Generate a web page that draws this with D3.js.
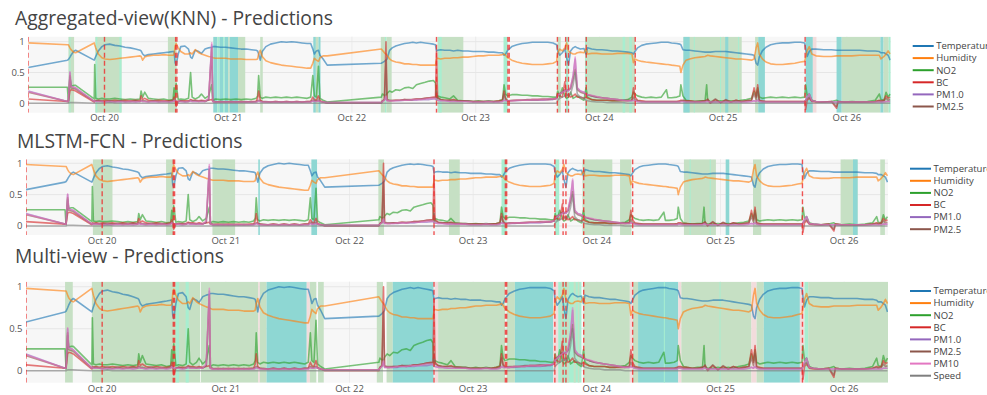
<!DOCTYPE html>
<html>
<head>
<meta charset="utf-8">
<script src="https://cdn.jsdelivr.net/npm/d3@7"></script>
<style>
  body { margin: 0; background: #fff; }
  svg { font-family: "Open Sans", "DejaVu Sans", sans-serif; }
</style>
</head>
<body>
<svg id="chart" width="987" height="395"></svg>
<script>
// Sample times, in hours after 19 Oct 00:00 (UTC)
const hours = [
  9.2,16.8,17.0,17.3,17.5,18.0,18.4,22.0,22.1,22.3,
  22.8,23.5,24.1,25.0,26.0,27.0,28.0,29.0,30.0,30.9,
  31.1,31.4,31.8,32.5,33.5,34.5,35.5,36.5,37.3,37.5,
  37.7,37.9,38.3,38.8,39.6,40.3,40.7,41.0,41.6,42.3,
  42.8,43.5,44.2,44.8,45.0,45.5,46.5,47.5,48.5,49.5,
  50.5,51.5,52.5,53.4,53.7,53.9,54.2,54.6,55.3,56.2,
  57.2,58.3,59.3,60.3,61.3,62.3,63.3,64.0,64.4,64.7,
  65.1,65.5,65.8,66.4,67.2,77.7,77.9,78.3,78.6,78.8,
  79.3,79.8,80.5,81.3,82.2,83.0,83.8,84.5,85.3,86.2,
  87.0,87.8,88.2,88.4,88.6,89.2,90.0,91.0,91.7,92.5,
  93.5,94.5,95.5,96.5,97.5,98.5,99.5,100.5,101.2,101.5,
  101.8,102.2,103.0,104.0,105.0,106.0,107.0,108.0,109.0,110.0,
  111.0,111.7,111.9,112.3,112.8,113.3,113.6,114.0,114.4,114.9,
  115.3,115.7,116.3,117.0,117.4,117.7,118.5,119.5,120.5,121.5,
  122.5,123.5,124.5,125.5,126.3,126.6,126.9,127.4,128.2,129.0,
  130.0,131.0,132.0,133.0,133.3,134.0,135.0,135.6,135.8,136.2,
  136.8,137.5,138.5,139.5,140.5,140.8,141.0,141.5,142.5,143.5,
  144.5,145.5,146.5,147.5,148.5,149.5,150.0,150.4,150.7,151.0,
  151.6,152.3,153.2,154.3,155.5,156.7,157.9,159.0,159.8,160.0,
  160.3,160.7,161.2,162.0,163.5,165.0,166.0,166.3,167.5,169.0,
  170.5,172.0,173.5,174.3,174.6,175.2,175.6,176.0,176.4
];

// Normalised sensor readings (0..1)
const temperature = [
  .58,.70,.71,.75,.78,.84,.86,.70,.72,.76,
  .85,.92,.95,.96,.94,.93,.91,.90,.88,.86,
  .85,.80,.77,.79,.80,.81,.82,.83,.84,.84,
  .66,.62,.80,.92,.93,.88,.75,.73,.86,.84,
  .81,.88,.90,.91,.92,.92,.91,.91,.90,.89,
  .88,.88,.87,.86,.85,.80,.70,.84,.92,.96,
  .98,1.00,.99,1.00,.99,.98,.97,.97,.88,.80,
  .85,.86,.78,.72,.62,.65,.66,.68,.70,.72,
  .86,.90,.93,.95,.97,.98,.99,.98,.99,.98,
  .97,.96,.95,.85,.86,.87,.86,.86,.85,.86,
  .85,.85,.84,.84,.84,.83,.83,.82,.82,.78,
  .80,.86,.92,.95,.97,.98,.99,.99,.99,.99,
  .98,.95,.85,.78,.82,.88,.75,.62,.85,.90,
  .92,.90,.88,.89,.80,.90,.88,.87,.87,.86,
  .85,.85,.84,.83,.82,.80,.84,.90,.94,.96,
  .97,.98,.99,.99,.99,.98,.97,.96,.95,.87,
  .86,.86,.85,.84,.83,.83,.83,.83,.84,.84,
  .84,.83,.82,.81,.80,.79,.78,.65,.62,.75,
  .85,.91,.95,.97,.98,.98,.99,.99,.98,.88,
  .76,.84,.88,.88,.87,.87,.86,.86,.86,.86,
  .86,.85,.85,.84,.82,.82,.80,.78,.70
];
const humidity = [
  .98,.95,.95,.90,.87,.83,.82,.98,.95,.90,
  .80,.74,.72,.71,.72,.73,.74,.75,.76,.77,
  .76,.70,.75,.77,.78,.78,.79,.78,.78,.79,
  .92,.97,.90,.84,.80,.80,.82,.80,.87,.82,
  .80,.78,.76,.75,.74,.73,.73,.73,.72,.72,
  .72,.71,.71,.71,.72,.80,.86,.76,.69,.66,
  .64,.62,.61,.60,.59,.58,.57,.57,.65,.73,
  .70,.68,.74,.77,.77,.88,.86,.82,.80,.78,
  .72,.69,.67,.66,.64,.64,.63,.63,.62,.62,
  .62,.62,.62,.72,.73,.72,.73,.73,.74,.74,
  .75,.75,.76,.77,.77,.78,.78,.78,.79,.80,
  .78,.74,.70,.67,.65,.64,.63,.63,.63,.64,
  .65,.68,.82,.88,.85,.90,.98,.85,.82,.80,
  .80,.82,.83,.82,.88,.80,.81,.81,.80,.80,
  .80,.81,.81,.81,.80,.66,.72,.70,.68,.67,
  .66,.65,.64,.63,.63,.62,.61,.60,.50,.62,
  .70,.72,.74,.75,.76,.77,.78,.77,.76,.75,
  .74,.73,.72,.72,.71,.70,.72,.90,.98,.80,
  .72,.67,.64,.63,.63,.64,.65,.67,.68,.75,
  .85,.92,.80,.77,.76,.76,.77,.77,.77,.77,
  .78,.78,.78,.78,.72,.76,.80,.85,.80
];
const no2 = [
  .26,.26,.02,.42,.28,.29,.29,.07,.63,.08,
  .07,.08,.07,.07,.08,.07,.06,.07,.06,.07,
  .20,.10,.18,.08,.07,.06,.07,.05,.06,.25,
  .08,.32,.06,.07,.06,.08,.50,.10,.07,.10,
  .15,.08,.12,.30,.05,.07,.06,.07,.06,.07,
  .06,.07,.06,.08,.12,.45,.10,.08,.10,.09,
  .10,.09,.10,.09,.10,.09,.08,.10,.45,.12,
  .10,.60,.08,.05,.02,.10,.15,.13,.12,.16,
  .20,.18,.22,.21,.25,.26,.24,.30,.32,.34,
  .36,.37,.33,.05,.12,.10,.09,.07,.12,.05,
  .04,.04,.03,.04,.03,.04,.03,.04,.06,.30,
  .15,.12,.14,.14,.13,.13,.12,.12,.11,.11,
  .10,.10,.20,.10,.25,.12,.08,.10,.18,.08,
  .10,.12,.08,.05,.25,.10,.06,.05,.05,.05,
  .04,.04,.05,.06,.10,.18,.15,.12,.10,.09,
  .10,.09,.10,.22,.09,.09,.10,.12,.30,.12,
  .05,.04,.03,.04,.04,.30,.04,.03,.03,.04,
  .03,.04,.03,.05,.06,.08,.20,.12,.25,.10,
  .08,.09,.10,.09,.10,.09,.10,.09,.10,.30,
  .12,.15,.05,.03,.02,.03,.05,.03,.02,.03,
  .02,.03,.05,.15,.06,.05,.18,.10,.15
];
const bc = [
  .07,.03,.03,.20,.22,.21,.20,.02,.05,.04,
  .05,.04,.05,.04,.05,.04,.05,.04,.05,.04,
  .12,.06,.08,.05,.04,.05,.04,.04,.05,.10,
  .06,-.05,.03,.04,.04,.04,.06,.05,.05,.04,
  .05,.04,.05,.06,.03,.02,.03,.02,.03,.02,
  .03,.02,.03,.03,.08,.20,.05,.03,.02,.02,
  .03,.02,.03,.02,.03,.02,.03,.03,.10,.06,
  .05,.12,.04,.02,.00,.00,.04,.06,1.00,.05,
  .04,.04,.05,.05,.06,.05,.06,.07,.07,.08,
  .09,.10,.10,.85,.10,.06,.05,.05,.06,.04,
  .04,.03,.03,.03,.03,.03,.03,.04,.05,.20,
  .08,.04,.04,.05,.05,.05,.06,.06,.06,.06,
  .07,.08,.15,.12,.10,.35,.12,.15,.10,.12,
  .15,.10,.10,.08,.10,.08,.06,.05,.05,.05,
  .04,.04,.04,.04,.05,.25,.10,.05,.04,.03,
  .03,.03,.03,.03,.03,.03,.03,.04,.05,.05,
  .04,.04,.03,.03,.04,.05,.06,.00,.06,.01,
  .05,.02,.05,.03,.04,.05,.25,.10,.30,.05,
  .04,.03,.03,.03,.03,.03,.03,.03,.03,-.10,
  .05,.08,.03,.02,.02,.03,-.08,.03,.02,.02,
  .02,.02,.03,.05,.04,.05,.12,.08,.10
];
const pm1 = [
  .20,.03,.03,.50,.28,.26,.25,.03,.04,.03,
  .03,.03,.02,.03,.02,.03,.02,.03,.02,.03,
  .04,.03,.03,.02,.03,.02,.03,.02,.03,.05,
  .04,.03,.03,.03,.02,.03,.04,.03,.03,.03,
  .03,.03,.06,.95,.03,.02,.02,.02,.02,.02,
  .02,.02,.02,.02,.03,.04,.03,.02,.02,.02,
  .02,.02,.02,.02,.02,.02,.02,.02,.04,.03,
  .03,.04,.03,.02,.01,.01,.03,.05,.10,.04,
  .04,.04,.04,.04,.05,.05,.05,.05,.06,.06,
  .06,.07,.07,.06,.05,.04,.04,.03,.03,.03,
  .03,.03,.02,.02,.02,.03,.02,.02,.03,.05,
  .04,.04,.04,.04,.05,.05,.05,.05,.05,.06,
  .06,.08,.12,.15,.18,.20,.22,.20,.25,.45,
  .72,.25,.20,.18,.15,.14,.12,.10,.09,.08,
  .07,.06,.05,.04,.04,.05,.04,.03,.02,.02,
  .02,.02,.02,.02,.02,.02,.02,.02,.03,.03,
  .02,.02,.02,.02,.02,.03,.03,.02,.02,.02,
  .02,.02,.02,.02,.02,.03,.04,.03,.05,.03,
  .02,.02,.02,.02,.02,.02,.02,.02,.02,.05,
  .10,.15,.04,.03,.02,.02,.02,.02,.02,.02,
  .02,.02,.02,.02,.02,.02,.03,.03,.03
];
const pm25 = [
  .18,.03,.04,.45,.25,.24,.23,.03,.04,.04,
  .04,.03,.03,.04,.03,.04,.03,.03,.04,.03,
  .05,.04,.04,.03,.04,.03,.03,.03,.04,.06,
  .05,.02,.03,.04,.03,.03,.05,.04,.04,.03,
  .04,.03,.06,.90,.04,.03,.02,.03,.02,.03,
  .02,.03,.02,.03,.04,.05,.04,.03,.03,.02,
  .03,.02,.03,.02,.03,.02,.03,.03,.05,.04,
  .04,.05,.03,.02,.01,.01,.04,.06,.70,.06,
  .05,.05,.05,.05,.06,.06,.06,.07,.07,.08,
  .09,.09,.09,.20,.08,.06,.05,.05,.05,.04,
  .04,.04,.03,.03,.03,.03,.03,.03,.04,.15,
  .06,.04,.05,.05,.05,.06,.06,.06,.07,.07,
  .07,.08,.14,.16,.18,.22,.20,.22,.24,.40,
  .55,.22,.18,.16,.15,.14,.12,.10,.09,.08,
  .07,.06,.05,.05,.05,.10,.06,.04,.03,.03,
  .03,.03,.03,.03,.03,.03,.03,.03,.04,.04,
  .03,.03,.03,.03,.04,.05,.07,.01,.07,.01,
  .06,.02,.05,.03,.04,.05,.15,.06,.20,.04,
  .03,.03,.03,.03,.03,.03,.03,.03,.03,.05,
  .08,.10,.04,.03,.02,.03,-.05,.03,.02,.02,
  .02,.02,.03,.04,.03,.04,.08,.05,.06
];
const pm10 = [
  .19,.03,.03,.51,.27,.26,.25,.03,.04,.03,
  .03,.03,.02,.03,.02,.03,.02,.03,.02,.03,
  .04,.03,.03,.02,.03,.02,.03,.02,.03,.05,
  .04,.03,.03,.03,.02,.03,.04,.03,.03,.03,
  .03,.03,.08,.98,.03,.02,.02,.02,.02,.02,
  .02,.02,.02,.02,.03,.04,.03,.02,.02,.02,
  .02,.02,.02,.02,.02,.02,.02,.02,.04,.03,
  .03,.04,.03,.02,.01,.01,.03,.05,.12,.04,
  .04,.04,.04,.05,.05,.05,.06,.06,.06,.07,
  .08,.08,.08,.06,.05,.04,.04,.03,.03,.03,
  .03,.03,.02,.02,.02,.03,.02,.02,.03,.05,
  .04,.04,.04,.05,.05,.05,.06,.06,.06,.07,
  .07,.08,.13,.15,.18,.20,.22,.20,.26,.45,
  .75,.25,.20,.18,.15,.14,.13,.11,.09,.08,
  .07,.06,.05,.04,.04,.05,.04,.03,.02,.02,
  .02,.02,.02,.02,.02,.02,.02,.02,.03,.03,
  .02,.02,.02,.02,.02,.03,.03,.02,.02,.02,
  .02,.02,.02,.02,.02,.03,.04,.03,.05,.03,
  .02,.02,.02,.02,.02,.02,.02,.02,.02,.05,
  .10,.15,.04,.03,.02,.02,.02,.02,.02,.02,
  .02,.02,.02,.02,.02,.02,.03,.03,.03
];
const speed = [
  0,0,0,.01,.01,.01,.01,0,0,0,
  0,0,0,.01,0,0,0,0,0,0,
  0,0,0,0,0,0,0,0,0,0,
  0,0,0,0,0,0,0,0,0,0,
  0,0,0,0,0,0,0,0,0,0,
  0,0,0,0,0,0,0,0,0,0,
  0,0,0,0,0,0,0,0,0,0,
  0,0,0,0,0,0,0,0,0,0,
  0,0,0,0,0,0,0,0,0,0,
  0,0,0,0,0,0,0,0,0,0,
  0,0,0,0,0,0,0,0,0,0,
  0,0,0,0,0,0,0,0,0,0,
  0,0,.05,.08,.10,.12,.15,.12,.15,.30,
  .50,.15,.10,.08,.05,.04,.03,.02,.02,.01,
  .01,.01,.01,0,0,0,0,0,0,0,
  0,0,0,0,0,0,0,0,0,0,
  0,0,0,0,0,0,0,0,0,0,
  0,0,0,0,0,0,0,0,0,0,
  0,0,0,0,0,0,0,0,0,0,
  0,0,0,0,0,0,0,0,0,0,
  0,0,0,0,0,0,0,0,0
];

const seriesNames = ["Temperature", "Humidity", "NO2", "BC", "PM1.0", "PM2.5", "PM10", "Speed"];
const seriesValues = [temperature, humidity, no2, bc, pm1, pm25, pm10, speed];
const seriesColors = ["#1f77b4", "#ff7f0e", "#2ca02c", "#d62728", "#9467bd", "#8c564b", "#e377c2", "#7f7f7f"];

// Predicted activity intervals per model: [start h, end h, class]
const knnBands = [
  [17.0,18.1,"g"],[17.2,17.4,"m"],
  [22.2,27.3,"g"],[22.3,22.6,"m"],[26.9,27.3,"m"],
  [36.3,38.0,"g"],
  [45.1,45.9,"t"],[45.9,46.3,"m"],[46.3,47.0,"t"],[47.0,47.3,"m"],[47.3,48.0,"t"],
  [48.0,48.3,"g"],[48.3,49.9,"t"],[49.9,51.3,"g"],
  [54.2,54.7,"g"],
  [64.5,65.0,"t"],[65.0,65.5,"g"],[65.5,65.9,"t"],
  [77.6,78.4,"g"],[78.4,78.7,"m"],[78.7,79.7,"g"],
  [88.6,93.6,"g"],[88.8,89.4,"m"],
  [101.4,102.2,"m"],
  [111.9,112.5,"g"],[113.5,114.0,"m"],
  [117.2,126.9,"g"],[117.2,117.5,"m"],[124.5,125.0,"m"],[125.8,126.3,"m"],
  [136.3,147.6,"g"],[136.3,137.5,"t"],[138.3,138.5,"m"],[143.4,143.6,"m"],[144.4,145.0,"t"],[146.9,147.1,"m"],
  [150.2,150.8,"g"],[150.8,152.1,"t"],
  [160.0,161.4,"t"],[161.4,162.1,"p"],
  [166.0,167.0,"t"],[167.0,174.5,"g"],[174.5,175.1,"t"],[175.1,176.1,"g"],[176.1,176.5,"m"]
];
const mlstmBands = [
  [22.2,26.0,"g"],[36.4,37.9,"g"],[45.4,49.8,"g"],[54.3,54.6,"t"],[64.6,65.7,"t"],
  [77.6,78.7,"g"],[91.3,93.4,"g"],[101.5,102.5,"m"],[111.9,112.7,"m"],
  [117.2,123.0,"g"],[124.5,126.7,"g"],
  [136.9,143.1,"g"],[138.0,138.2,"m"],[141.9,142.1,"m"],
  [145.0,145.7,"t"],[150.3,151.9,"g"],
  [167.3,170.6,"g"],[169.7,170.6,"t"],[175.0,175.9,"g"]
];
const multiBands = [
  [16.8,18.3,"g"],
  [22.0,54.3,"g"],[38.3,38.9,"m"],[40.2,40.8,"m"],[43.0,43.15,"w"],[54.3,54.6,"p"],
  [54.6,55.9,"g"],[55.9,63.7,"t"],[63.7,64.3,"p"],[64.3,65.6,"g"],[65.6,65.9,"w"],[65.9,67.0,"g"],
  [77.3,78.5,"g"],[78.5,79.2,"w"],[79.2,80.4,"g"],[80.4,88.3,"t"],
  [88.5,89.2,"p"],[89.2,102.2,"g"],[102.5,104.1,"g"],[104.1,111.5,"t"],[111.5,112.5,"p"],
  [112.5,117.0,"m"],[113.0,113.4,"g"],[114.1,114.6,"g"],[115.5,115.9,"g"],[116.3,116.6,"g"],
  [117.4,126.4,"g"],[126.4,127.0,"p"],[127.0,128.0,"g"],[128.0,135.8,"t"],[133.0,133.2,"m"],
  [135.8,136.4,"p"],[136.4,150.0,"g"],[143.8,144.0,"m"],[150.0,151.0,"p"],[151.0,152.4,"g"],
  [152.4,159.4,"t"],[159.4,160.3,"p"],[160.3,161.0,"m"],[161.0,176.5,"g"]
];
// Labelled transitions (hours)
const truthMarks = [9.22, 24.0, 37.8, 38.05, 88.4, 102.25, 102.5, 111.85, 113.45, 114.0, 117.45, 126.95, 159.9];

const panelTitles = ["Aggregated-view(KNN) - Predictions", "MLSTM-FCN - Predictions", "Multi-view - Predictions"];
const panelBands = [knnBands, mlstmBands, multiBands];
const legendCounts = [6, 6, 8];
const yTickValues = [0, 0.5, 1];
const yTickLabels = ["0", "0.5", "1"];

const bandFill = { g: "#c6e0c4", t: "#8ed7d3", m: "#a8eed0", p: "#f2dcdc", w: "#fbfbfb" };

const panels = [
  { left: 28.3, right: 890.7, top: 36.7, bottom: 112.7, y0: -0.153, y1: 1.081, titleX: 15, titleY: 25, tickY: 120.5, legX: 912.7, legY: 46 },
  { left: 26, right: 888, top: 159.3, bottom: 235, y0: -0.144, y1: 1.064, titleX: 17, titleY: 148, tickY: 243.5, legX: 910, legY: 168.7 },
  { left: 26, right: 888, top: 281.7, bottom: 382.7, y0: -0.143, y1: 1.06, titleX: 15, titleY: 262.5, tickY: 391.5, legX: 910, legY: 291 }
];

const t0 = Date.UTC(2021, 9, 19);
const toDate = h => new Date(t0 + h * 3600e3);
const xDomain = [toDate(9.22), toDate(176.5)];

const svg = d3.select("#chart");
const fmt = d3.utcFormat("%b %d");

panels.forEach((p, pi) => {
  const x = d3.scaleUtc().domain(xDomain).range([p.left, p.right]);
  const y = d3.scaleLinear().domain([p.y0, p.y1]).range([p.bottom, p.top]);
  const g = svg.append("g");

  const clipId = "clip" + pi;
  g.append("clipPath").attr("id", clipId).append("rect")
    .attr("x", p.left).attr("y", p.top).attr("width", p.right - p.left).attr("height", p.bottom - p.top);

  g.append("rect").attr("x", p.left).attr("y", p.top)
    .attr("width", p.right - p.left).attr("height", p.bottom - p.top).attr("fill", "#f7f7f7");

  const dayTicks = x.ticks(d3.utcDay.every(1));
  g.append("g").selectAll("line").data(dayTicks).join("line")
    .attr("x1", d => x(d)).attr("x2", d => x(d)).attr("y1", p.top).attr("y2", p.bottom)
    .attr("stroke", "#ebebeb").attr("stroke-width", 1);
  g.append("g").selectAll("line").data(yTickValues).join("line")
    .attr("x1", p.left).attr("x2", p.right).attr("y1", d => y(d)).attr("y2", d => y(d))
    .attr("stroke", "#e6e6e6").attr("stroke-width", 1);

  const plot = g.append("g").attr("clip-path", `url(#${clipId})`);

  plot.append("g").selectAll("rect").data(panelBands[pi]).join("rect")
    .attr("x", d => x(toDate(d[0])))
    .attr("width", d => Math.max(0.8, x(toDate(d[1])) - x(toDate(d[0]))))
    .attr("y", p.top).attr("height", p.bottom - p.top)
    .attr("fill", d => bandFill[d[2]]);

  const line = d3.line().x(d => x(toDate(d[0]))).y(d => y(d[1]));
  seriesValues.forEach((vals, si) => {
    const pts = hours.map((h, i) => [h, vals[i]]).filter(d => d[1] !== undefined);
    plot.append("path").attr("d", line(pts))
      .attr("fill", "none").attr("stroke", seriesColors[si])
      .attr("stroke-width", 1.6).attr("stroke-opacity", 0.62)
      .attr("stroke-linejoin", "round");
  });

  plot.append("g").selectAll("line").data(truthMarks).join("line")
    .attr("x1", d => x(toDate(d))).attr("x2", d => x(toDate(d)))
    .attr("y1", p.top).attr("y2", p.bottom)
    .attr("stroke", "#ee2a2a").attr("stroke-width", 1.4)
    .attr("stroke-dasharray", "5,3").attr("stroke-opacity", 0.8);

  // axis labels
  g.append("g").selectAll("text").data(dayTicks).join("text")
    .attr("x", d => x(d)).attr("y", p.tickY).attr("text-anchor", "middle")
    .attr("font-size", 9.5).attr("fill", "#555").text(d => fmt(d));
  g.append("g").selectAll("text").data(yTickValues).join("text")
    .attr("x", p.left - 3.5).attr("y", d => y(d)).attr("dy", "0.35em").attr("text-anchor", "end")
    .attr("font-size", 9.5).attr("fill", "#555").text((d, i) => yTickLabels[i]);

  g.append("text").attr("x", p.titleX).attr("y", p.titleY)
    .attr("font-size", 19.3).attr("fill", "#444").text(panelTitles[pi]);

  // legend
  const leg = g.append("g");
  d3.range(legendCounts[pi]).forEach(i => {
    const ly = p.legY + i * 12.1;
    leg.append("line").attr("x1", p.legX).attr("x2", p.legX + 21).attr("y1", ly).attr("y2", ly)
      .attr("stroke", seriesColors[i]).attr("stroke-width", 2);
    leg.append("text").attr("x", p.legX + 23.5).attr("y", ly).attr("dy", "0.35em")
      .attr("font-size", 9.5).attr("fill", "#444").text(seriesNames[i]);
  });
});
</script>
</body>
</html>
